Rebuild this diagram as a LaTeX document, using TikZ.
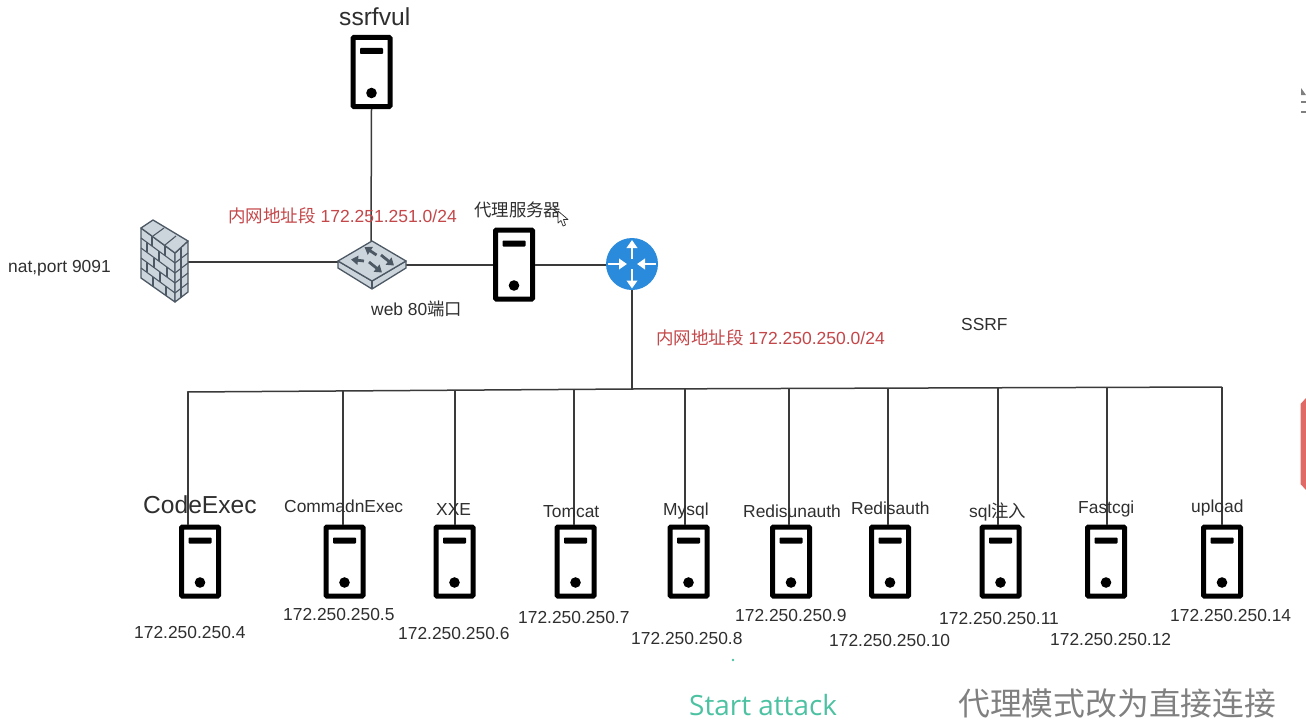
\documentclass[tikz,border=0pt]{standalone}
\usepackage{fontspec}
\setmainfont{Liberation Sans}
\newfontfamily\cjk{Noto Sans CJK SC}
\newfontfamily\startfont{Open Sans}
\usetikzlibrary{arrows.meta}
\definecolor{ink}{HTML}{2F2F2F}
\definecolor{wire}{HTML}{3A3A3A}
\definecolor{redtxt}{HTML}{C4474A}
\definecolor{routerblue}{HTML}{2A8ADB}
\definecolor{devfill}{HTML}{CDD5DC}
\definecolor{devline}{HTML}{4C5864}
\definecolor{teal}{HTML}{4CC2A2}
\definecolor{graytxt}{HTML}{808080}
\definecolor{edgered}{HTML}{E06A66}
\tikzset{
  srv/.style={draw=black,fill=white,line width=5pt,rounded corners=0.8pt,
    minimum width=37pt,minimum height=69pt,inner sep=0pt,outer sep=2.5pt,
    path picture={
      \fill[black] ([yshift=21pt]path picture bounding box.center) ++(-11.5pt,-3pt) rectangle ++(23pt,6pt);
      \fill[black] ([yshift=-21pt]path picture bounding box.center) circle (5.3pt);
    }},
  wirel/.style={draw=wire,line width=1.5pt},
  txt/.style={anchor=west,inner sep=0pt,text=ink,font=\fontsize{17.4}{20}\selectfont},
  bigtxt/.style={txt,font=\fontsize{24.6}{28}\selectfont},
  redlab/.style={txt,text=redtxt,font=\fontsize{17.5}{20}\selectfont},
  devface/.style={fill=devfill,draw=devline,line width=1.3pt,line join=round},
  swarrow/.style={draw=devline,line width=2.8pt,-{Triangle[length=7pt,width=9pt]}},
  rtarrow/.style={draw=white,line width=2.4pt,-{Triangle[length=8pt,width=10.5pt]}}
}
\begin{document}
\begin{tikzpicture}[x=1pt,y=-1pt]
\useasboundingbox (0,0) rectangle (1306,725);
\fill[white] (0,0) rectangle (1306,725);

% junctions
\coordinate (fwE) at (188,262);
\coordinate (swW) at (338,262);
\coordinate (swN) at (371,241);
\coordinate (swE) at (406,265);
\coordinate (busL) at (187,392);
\coordinate (busR) at (1222,387);
\coordinate (busJ) at (632,389);

% connectors and bus (servers go on top)
\node[srv] (ssrf) at (371.5,72) {};
\node[srv] (proxy) at (514,264.5) {};
\node[circle,fill=routerblue,minimum size=52pt,inner sep=0pt] (router) at (632,264) {};

\draw[wirel] (ssrf.south) -- (swN);
\draw[wirel] (fwE) -- (swW);
\draw[wirel] (swE) -- (proxy.west |- swE);
\draw[wirel] (proxy.east |- swE) -- (router.west |- swE);
\draw[wirel] (router.south) -- (busJ);
\draw[wirel] (busL) -- (busJ) -- (busR);

% bottom servers with drops from the bus
\foreach \i/\cx/\bx/\by in {1/200/188/392,2/344.5/343/391.3,3/454.5/455/390.7,4/575.5/574/390,
  5/688.5/685/389,6/791/789/388.8,7/890/888/388.5,8/1000.5/998/388,9/1106/1107/387.5,10/1222/1222/387}{
  \coordinate (b\i) at (\bx,\by);
  \node[srv] (s\i) at (\cx,561.5) {};
  \draw[wirel] (b\i) -- (b\i |- s\i.north);
}

% firewall
\draw[devface] (141,228) -- (175,253) -- (175,302) -- (141,278) -- cycle;
\draw[devface] (175,253) -- (188,241) -- (188,292) -- (175,302) -- cycle;
\draw[devface] (141,228) -- (153,220) -- (188,241) -- (175,253) -- cycle;
\draw[devline,line width=1.1pt] (153,236) -- (164,228) (165,245) -- (176,236);
\foreach \k in {1,2,3,4}{
  \draw[devline,line width=1.1pt] (141,228+10*\k) -- (175,253+10*\k);
  \draw[devline,line width=1.1pt] (175,253+10*\k) -- (188,243+10*\k);
}
\foreach \k/\a/\b in {0/152/165,1/147/159,2/154/167,3/147/160,4/153/166}{
  \pgfmathsetmacro{\ya}{228+10*\k+(\a-141)*25/34}
  \pgfmathsetmacro{\yb}{228+10*\k+(\b-141)*25/34}
  \draw[devline,line width=1.1pt] (\a,\ya) -- (\a,\ya+10) (\b,\yb) -- (\b,\yb+10);
  \draw[devline,line width=1.1pt] (181,248+10*\k-0.5) -- (181,258+10*\k-0.5);
}

% switch
\draw[devface] (338,261) -- (372,281) -- (406,261) -- (406,268) -- (372,289) -- (338,268) -- cycle;
\draw[devline,line width=1.3pt] (372,281) -- (372,289);
\draw[devface] (338,261) -- (372,241) -- (406,261) -- (372,281) -- cycle;
\draw[swarrow] (376.5,255) -- (364.5,247);
\draw[swarrow] (381,255) -- (394,265.5);
\draw[swarrow] (364,261) -- (351,259.5);
\draw[swarrow] (369,262) -- (382,272.5);

% router arrows
\draw[rtarrow] (632,259) -- (632,240);
\draw[rtarrow] (632,269) -- (632,288.5);
\draw[rtarrow] (608,264) -- (627,264);
\draw[rtarrow] (656,264) -- (637,264);

% labels
\node[bigtxt] (tssrf) at (339,16.5) {ssrfvul};
\node[txt] (tnat) at (8,268) {nat,port 9091};
\node[redlab] (tnet1) at (228,215.5) {{\cjk 内网地址段} 172.251.251.0/24};
\node[txt] (tproxy) at (474,209.5) {\cjk 代理服务器};
\node[txt] (tweb) at (371,308.5) {web 80{\cjk 端口}};
\node[redlab] (tnet2) at (656,337.5) {{\cjk 内网地址段} 172.250.250.0/24};
\node[txt] (tssrfb) at (961,324.5) {SSRF};

\node[bigtxt] (n1) at (143,504.5) {CodeExec};
\foreach \i/\x/\y/\t in {2/284/506.5/CommadnExec,3/436/509.5/XXE,4/543/511.5/Tomcat,5/663/510.5/Mysql,
  6/743/511.5/Redisunauth,7/851/508.5/Redisauth,8/969/511.5/sql{\cjk 注入},9/1078/508.5/Fastcgi,10/1191/507.5/upload}{
  \node[txt] (n\i) at (\x,\y) {\t};
}
\foreach \i/\x/\y/\t in {1/134/632.5/4,2/283/614.5/5,3/398/633.5/6,4/518/617.5/7,5/631/638.5/8,
  6/735/615.5/9,7/829/640.5/10,8/939/618.5/11,9/1050/639.5/12,10/1170/615.5/14}{
  \node[txt] (ip\i) at (\x,\y) {172.250.250.\t};
}

% mouse cursor
\draw[fill=white,draw=ink,line width=0.7pt,line join=round]
  (558,211) -- (558,223) -- (561,220.5) -- (563,226) -- (565.5,225) -- (563.5,219.5) -- (568,219.5) -- cycle;

% player overlay
\fill[teal] (733,660) circle (1.4pt);
\node[anchor=west,inner sep=0pt,text=teal,font=\startfont\fontsize{27.9}{32}\selectfont] (tstart) at (689,705) {Start attack};
\node[anchor=west,inner sep=0pt,text=graytxt,font=\cjk\fontsize{31.8}{36}\selectfont] (tmode) at (958,703) {代理模式改为直接连接};
\fill[edgered] (1300.5,404) -- (1306,398) -- (1306,490) -- (1300.5,484) -- cycle;
\fill[graytxt] (1301,88) -- (1306,95) -- (1301,95) -- cycle;
\fill[graytxt] (1301,101) rectangle (1306,103);
\fill[graytxt] (1301,111) rectangle (1306,113);
\end{tikzpicture}
\end{document}
